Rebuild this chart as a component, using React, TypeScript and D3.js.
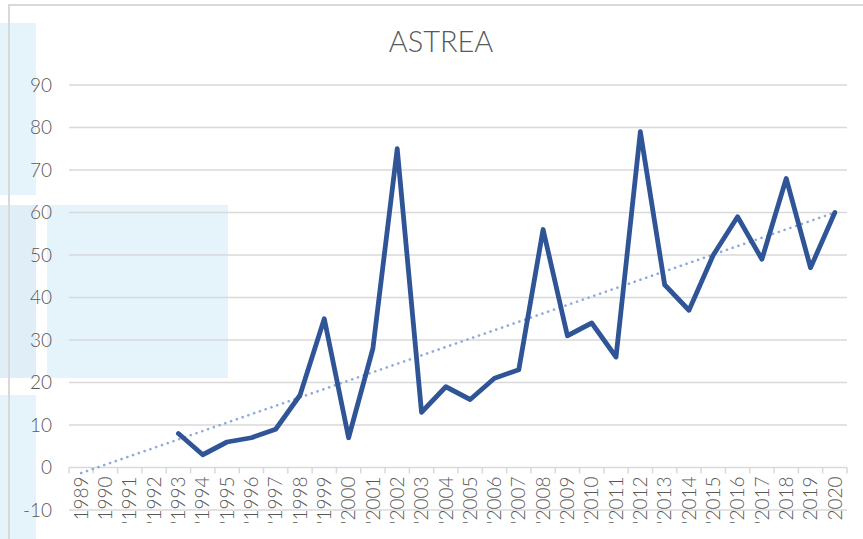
import React from 'react';
import * as d3 from 'd3';

const years = d3.range(1989, 2021).map(String);
const yearLabels = years.map(y => (+y >= 1991 && +y <= 2017 ? `'${y}` : y));
const valueYears = ['1993', '1994', '1995', '1996', '1997', '1998', '1999', '2000', '2001', '2002', '2003', '2004', '2005', '2006', '2007', '2008', '2009', '2010', '2011', '2012', '2013', '2014', '2015', '2016', '2017', '2018', '2019', '2020'];
const values = [8, 3, 6, 7, 9, 17, 35, 7, 28, 75, 13, 19, 16, 21, 23, 56, 31, 34, 26, 79, 43, 37, 50, 59, 49, 68, 47, 60];
const yTicks = [-10, 0, 10, 20, 30, 40, 50, 60, 70, 80, 90];
// linear trendline ends
const trendYears = ['1989', '2020'];
const trendValues = [-1.3, 60];

const W = 863;
const H = 539;
const font = 'Lato, "Open Sans", sans-serif';
const grey = '#595959';
const gridColor = '#d9d9d9';

const App: React.FC = () => {
  const x = d3.scaleBand<string>().domain(years).range([69, 847]).padding(0);
  const y = d3.scaleLinear().domain([-10, 90]).range([510, 85]);
  const cx = (d: string) => (x(d) ?? 0) + x.bandwidth() / 2;

  const line = d3.line<number>()
    .x((_, i) => cx(valueYears[i]))
    .y(d => y(d));
  const trend = d3.line<number>()
    .x((_, i) => cx(trendYears[i]))
    .y(d => y(d));

  const boundaries = years.map(d => x(d) ?? 0).concat([x.range()[1]]);

  return (
    <svg width={W} height={H} style={{ position: 'absolute', left: 0, top: 0 }}>
      <rect x={0} y={0} width={W} height={H} fill="#fff" />
      {/* pale background panels */}
      <rect x={0} y={23} width={36} height={172} fill="#e5f3fb" />
      <rect x={0} y={205} width={36} height={173} fill="#e0eef7" />
      <rect x={47} y={205} width={181} height={173} fill="#e5f3fb" />
      <rect x={0} y={395} width={36} height={144} fill="#e5f3fb" />
      {/* chart frame */}
      <path d={`M9,${H} V5 H${W}`} fill="none" stroke={gridColor} strokeWidth={2} />

      <text x={441} y={52} textAnchor="middle" fontFamily={font} fontWeight={300} fontSize={29} fill={grey}>ASTREA</text>

      {yTicks.map(t => (
        <g key={t}>
          {t !== 0 && (
            <line x1={69} x2={847} y1={y(t)} y2={y(t)} stroke={gridColor} strokeWidth={1.5} />
          )}
          <text x={52} y={y(t)} dy="0.35em" textAnchor="end" fontFamily={font} fontWeight={300} fontSize={19} fill={grey}>{t}</text>
        </g>
      ))}

      {/* category axis at zero */}
      <line x1={69} x2={847} y1={y(0)} y2={y(0)} stroke={gridColor} strokeWidth={1.5} />
      {boundaries.map((b, i) => (
        <line key={i} x1={b} x2={b} y1={y(0)} y2={y(0) + 6} stroke={gridColor} strokeWidth={1.5} />
      ))}
      {years.map((d, i) => (
        <text key={d} transform={`translate(${cx(d)},${y(0) + 9}) rotate(-90)`} dy="0.35em" textAnchor="end"
          fontFamily={font} fontWeight={300} fontSize={19} fill={grey}>{yearLabels[i]}</text>
      ))}

      <path d={trend(trendValues) ?? ''} fill="none" stroke="#8faadc" strokeWidth={2.6}
        strokeDasharray="0.1 6" strokeLinecap="round" />
      <path d={line(values) ?? ''} fill="none" stroke="#2f5597" strokeWidth={4.8} strokeLinejoin="round" strokeLinecap="round" />
    </svg>
  );
};

export default App;
